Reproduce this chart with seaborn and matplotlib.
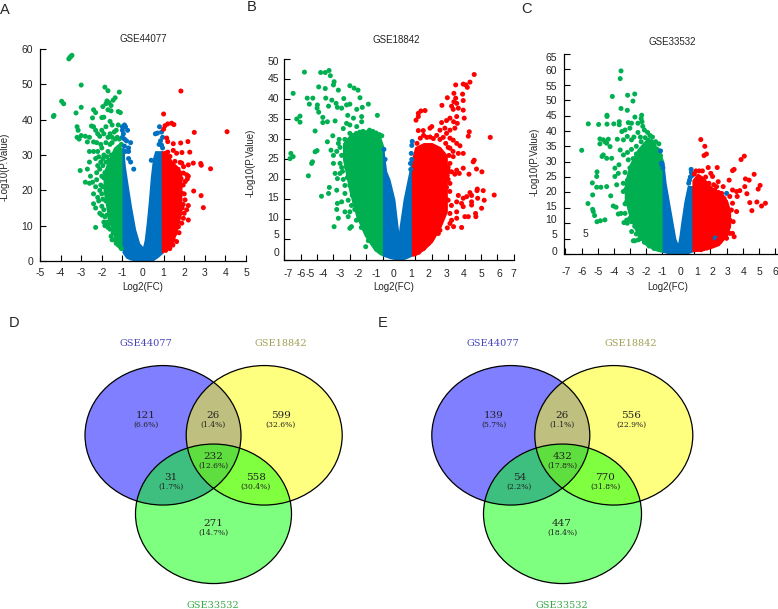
import matplotlib
matplotlib.use("Agg")
import matplotlib.pyplot as plt
from matplotlib.patches import Ellipse
import pandas as pd
import seaborn as sns

W, H = 778, 609
GREEN, BLUE, RED = "#00B050", "#0070C0", "#FF0000"

# ---------- Panel A: individually visible points (x, y) ----------
A_DOWN = [(-3.6,57.2),(-3.55,57.6),(-3.5,57.9),(-3.45,58.2),(-3.0,49.8),(-1.85,49.2),(-1.7,48.2),(-1.15,47.8),(-1.35,46.2),
(-1.45,45.5),(-1.75,45.3),(-1.65,44.8),(-1.8,44.5),(-1.55,44),(-1.95,43.7),(-3.95,45.2),(-3.85,44.5),(-4.35,40.9),(-4.32,41.2),
(-3.25,41.9),(-3.0,43.5),(-2.4,42.8),(-2.3,42),(-1.7,42.8),(-1.55,42.5),(-1.2,42.3),(-1.1,42),(-2.45,40.5),(-2.0,40.6),(-1.9,40.7),
(-1.6,39.5),(-1.5,38.5),(-1.2,38.5),(-3.15,37),(-3.2,38),(-3.2,35),(-3.1,34.5),(-3,35.5),(-2.8,35.3),(-2.6,35),(-2.7,33.7),(-2.4,33.7),
(-2.3,37),(-2.5,38.2),(-2.4,38),(-2.2,36),(-2.1,35.3),(-2,37),(-1.9,36),(-1.8,38),(-1.7,35),(-1.6,36),(-1.5,35),(-1.4,36.5),(-1.3,37),
(-2.4,31),(-2.6,31),(-2.3,29),(-2.6,28),(-2.7,26),(-2.2,27),(-2.0,32),(-1.9,30),(-1.7,31),(-2.8,22.3),(-2.6,22),(-2.45,22.3),(-2.3,21),
(-2.25,23),(-2,24),(-2.1,26),(-2.4,19),(-2.2,18),(-2.4,16.2),(-2.3,15),(-2.15,17),(-2,19),(-1.95,21),(-2.1,13.5),(-2,13),(-1.9,11),
(-1.85,10),(-2.0,15.5),(-1.8,17),(-1.6,20),(-1.6,12),(-1.6,9),(-1.55,7),(-1.5,6),(-1.45,8),(-3.05,25.6),(-2.3,9.5),(-2.05,33),(-2.25,33.5),
(-1.95,27),(-1.85,25),(-1.8,28),(-2.15,29.5),(-2.55,24),(-1.75,13),(-1.7,9.5),(-1.2,4.5),(-1.05,3.5),
(-1.6,33),(-1.5,33.5),(-1.35,34.5),(-1.25,35),(-1.15,34.5),(-1.05,33),(-1.8,33.5),(-1.75,29.5),(-1.65,28.5),(-1.55,30),(-1.9,23.5),(-1.95,17.5),
(-1.9,14.5),(-1.85,12.5),(-1.75,11),(-1.65,10.5),(-1.5,9.2),(-1.4,6),(-1.3,5),(-1.1,4),(-1.95,29),(-2.05,28),(-2.05,21.5),(-2.1,20),(-2.2,31),(-2.25,25)]
A_MID = [(-1,38),(-.9,38.5),(-.85,38),(-1,37),(-.75,37),(-.95,36),(-1,35),(-.9,34.5),(-.8,34),(-.6,33.5),(-.7,32),(-.9,32.5),(-.85,31),
(-.7,31),(-.7,29),(-.6,28),(-.45,26),(.8,38),(.7,36.2),(.6,36),(.9,36.5),(.95,35),(.85,34),(.9,32.8),(.95,32),(.78,33),(.4,28.5)]
A_UP = [(4.08,36.6),(1.84,48.1),(1,41.6),(2.49,36.4),(3.28,26.1),(2.8,27.6),(2.83,27.1),(2.93,15.1),(2.82,18.5),(2.46,19.8),(2.27,30.8),
(2.18,33.8),(1.83,33.4),(1.2,38.8),(1.39,39),(1.5,38.6),(1.07,38.3),(1,37.3),(1.15,34.8),(1.2,33.8),(1.47,33.2),(1.47,31.3),(1.89,30.7),
(1.63,30.5),(2.2,27.2),(2.44,27.7),(1.97,26.7),(1.88,27.7),(1.8,27.9),(1.31,29.6),(2.12,24.4),(1.96,24.9),(1.8,24.9),(2.04,17.3),(2.2,15.7),
(2.12,14.5),(2.2,11.6),(1.96,12.1),(2,13.5),(1.8,21),(1.88,19.2),(1.72,9.7),(1.88,10.7),(1.55,7.8),(1.63,5.5),(1.23,4),(1.47,6),(1.72,15.4),
(1.8,13.5),(1.65,23),(1.7,26),(1.75,18),(1.65,11),(1.1,3),(2.2,24),(2.15,23.2),(2.05,22.5),(1.95,21.5),(2.0,19),(1.95,16),(1.9,15),(1.85,23.3),
(1.75,8),(1.45,4.5),(1.3,3.5),(1.35,5),(1.2,30.8),(1.1,30.5),(1.55,28.2)]
# dense masses: x, lower edge, upper edge
A_DOWN_X = [-1.9,-1.7,-1.4,-1.2,-0.95]
A_DOWN_LO = [20,13,7,5,3.5]
A_DOWN_HI = [25,28,32,33,31]
A_MID_X = [-0.98,-0.9,-0.8,-0.6,-0.4,-0.2,-0.05,0,0.1,0.2,0.3,0.4,0.5,0.6,0.7,0.8,0.95]
A_MID_LO = [2.5,1.8,1,0.5,0.3,0.1,0,0,0,0.1,0.2,0.3,0.4,0.8,1.2,1.7,2.5]
A_MID_HI = [32,27,23,15.5,9,5,4,3.5,6,11,17,24,29,31,31,31,31]
A_UP_X = [0.93,1.2,1.4,1.6,1.85]
A_UP_LO = [2.5,4,5,8,14]
A_UP_HI = [31,30,28,27,25]

# ---------- Panel B ----------
B_DOWN = [(-5.77,46.8),(-4.78,46.7),(-4.5,46.7),(-4.27,47.2),(-4.19,45.9),(-3.96,44.4),(-4,43.6),(-4.9,43.1),(-4.5,42.7),(-3.7,42.3),(-3,43.4),
(-2.74,42.8),(-2.5,42.3),(-6.46,41.5),(-5.6,40.3),(-5.26,40.3),(-4.47,40.3),(-4.1,39.8),(-3.37,40.2),(-2.38,40.4),(-5.47,38.8),(-4.98,38.6),
(-4.3,38.3),(-3.84,39),(-3.76,38),(-3.5,37.8),(-3.2,38.6),(-3,38.8),(-1.87,38.8),(-2.24,38),(-2.58,37.5),(-5,37.8),(-4.9,36.8),(-6.04,35.8),
(-6.24,35.1),(-6.04,34.3),(-1.32,36),(-3.13,36),(-2.78,35.3),(-2.28,35.7),(-2.28,34.4),(-4.65,35.5),(-4.65,34.2),(-4.37,34.4),(-3.9,34.6),
(-5.12,32.1),(-4.04,30.9),(-3.4,32.7),(-3.2,34),(-3,33.6),(-2.58,33.2),(-4.37,29.4),(-4.15,27.3),(-5,27.2),(-5.12,26.9),(-6.6,26.5),(-6.46,25.7),
(-6.65,25.2),(-5.28,24.4),(-5.33,24),(-4,26),(-4,24),(-5.53,20.9),(-3.9,21.5),(-3.76,20.2),(-3.6,21.5),(-4.25,18),(-4.73,15.8),(-4.3,16.5),
(-3.8,17.3),(-3.3,16.5),(-3.76,14),(-3.5,14.4),(-3.1,14.8),(-3.8,12.5),(-3.3,11.9),(-3,11.9),(-3.7,10.3),(-3.1,10.7),(-3.96,8.2),(-3,7.8),
(-2.9,8.2),(-2.6,9.8),(-2.03,3.2),(-1.87,4.7),(-1.77,5),(-3.7,29),(-3.6,28),(-3.5,26),(-3.8,27),(-3.6,24),(-3.45,22),(-3.4,20),(-3.3,18.5),
(-3.5,23),(-3.65,30),(-2.9,13.5),(-2.7,12.5),(-2.5,10),(-2.3,8),(-2.6,31.5),(-2.2,32),(-1.8,32.3),(-1.4,31.6),(-3.3,30),(-3.0,31.5),(-2.8,31),(-2.4,31.8),
(-2.0,31.7),(-1.6,32),(-1.2,31.2),(-1.05,30.9),(-3.2,23),(-3.15,20.5),(-3.0,18.5),(-2.85,16),(-2.7,14.5),(-2.5,12),(-2.3,9.5),(-2.1,7.5),(-1.9,6),(-1.6,4),(-1.35,2.5)]
B_MID = [(.81,29.5),(.78,28.5),(.75,26.5),(.78,25),(.7,24),(.72,22.5),(-.92,27.5),(-.85,25)]
B_UP = [(4.59,46.2),(4.33,44.3),(3.92,43.8),(4.08,43.6),(4.17,43),(3.46,43.6),(3.35,41.5),(3.88,41.3),(2.95,40.4),(3.46,40.3),(3.92,39.7),(3.35,39.4),
(2.62,38.5),(3.21,38.3),(3.52,39),(3.62,37.8),(3.92,37.3),(3.31,37.5),(1.59,37.2),(1.34,37.1),(1.18,36.5),(1.18,35.7),(1.04,34.8),(3.52,35.7),
(3.98,35.3),(3.11,35.3),(2.9,34.7),(2.6,34.2),(3.33,34.4),(3.56,34),(2.8,32.8),(2.5,32.3),(1.89,32.8),(1.18,32.2),(1.48,32.2),(2,33.2),(3.11,32.3),
(3.41,32.8),(4.29,31.9),(4.23,30.8),(5.57,30.5),(3.52,29),(3.72,28.4),(3.31,29.8),(2.9,31.5),(3.11,30.3),(3.92,26.5),(3.11,27.8),(3.31,25.7),
(3.62,26.5),(4.59,24.8),(4.53,24.4),(3.11,24),(3.92,22.8),(4.73,22.6),(5.06,21.9),(3.52,22.3),(3.21,21.9),(3.41,21.3),(3.68,21.5),(4.27,21.3),
(3.11,19),(4.78,17.6),(5.14,17.2),(4.76,17.2),(5.81,16.1),(4.33,16.7),(4.43,16),(4.13,15.7),(3.62,16),(3.92,15.3),(5.2,14.8),(4.8,15.3),(4.43,14.4),
(3,14.8),(3.52,14.4),(3.82,14),(5.04,12.8),(3.92,13.2),(4.43,13.6),(3.52,11.9),(3.11,11.5),(4.67,11.5),(4.69,10.7),(4.23,10.7),(4.02,10.7),
(3.21,9.8),(3.52,10.3),(2.95,7.9),(3.33,8.2),(3.82,8),(3.11,9),(2.5,7.3),(2.4,6.5),(2.7,30.5),(2.3,31),(1.7,30.5),(1.3,30.3),(3.0,28),(3.3,27),(3.05,22),
(3.0,20),(3.1,17),(3.2,13.5),(1.1,29),(1.5,31),(1.9,30.6),(2.1,30.2),(2.5,30),(2.85,29),(3.05,26),(3.0,23),(2.95,21),(2.9,18),(2.9,15),(2.8,13),(2.6,10.5),(2.3,7.5),(2.05,5.5),(1.8,4),(1.5,2.8),(1.2,1.8)]
B_DOWN_X = [-3.4,-3.0,-2.6,-2.07,-1.5,-1.2,-0.96]
B_DOWN_LO = [25,17,11,6,2.5,1.5,1]
B_DOWN_HI = [29,31,31,32,31.5,31,28]
B_MID_X = [-0.96,-0.8,-0.6,-0.3,-0.1,0,0.05,0.3,0.65,0.81]
B_MID_LO = [1,0.8,0.5,0.2,0,0,0,0.2,0.8,1.2]
B_MID_HI = [27,22,20,15,8,5,8,15,22,25]
B_UP_X = [0.81,1.0,1.5,2.0,2.5,2.9]
B_UP_LO = [1,1.2,2.5,4.5,8,12]
B_UP_HI = [25,28,29,29,28,26]

# ---------- Panel C ----------
C_DOWN = [(-3.55,59.5),(-3.6,57),(-2.7,52),(-3.14,51.6),(-4.09,51.2),(-2.81,49.7),(-3.55,47.3),(-3.16,46.7),(-4.42,45.1),(-4.42,44.7),(-2.69,44.5),
(-2.27,45.1),(-5.58,42.3),(-4.94,42.1),(-4.42,42.2),(-4,42.3),(-3.66,43),(-3.66,42),(-3.1,42.7),(-2.9,42.5),(-2.5,42.5),(-5.99,33.7),(-4.86,37.4),
(-4.65,37.1),(-4.34,37.3),(-3.78,37.3),(-3.3,40.3),(-3,40.9),(-3.5,39.8),(-4.86,35.8),(-4.55,36.5),(-4.44,36),(-4.23,34.9),(-3.6,33.8),(-3.4,37.1),
(-3.16,38.2),(-2.9,37.1),(-4.65,32.2),(-4.73,31.7),(-4.44,31.1),(-4.13,31.1),(-3.4,32.2),(-3.68,29),(-3.93,27.9),(-3.1,30.6),(-5.04,26.7),(-5.06,25.2),
(-5.33,23.1),(-5.06,21.7),(-4.8,21.7),(-4.44,21.9),(-3.93,25.2),(-3.72,26.2),(-3.82,22.5),(-3.41,23),(-5.31,19.2),(-4.19,18.9),(-3.41,20.3),(-5.6,16.4),
(-4.03,15.6),(-3.86,15.2),(-3.3,16.3),(-5.31,14.5),(-5.27,13.8),(-5.19,12.5),(-5.04,10.5),(-4.83,10.8),(-4.55,11.1),(-3.72,13),(-3.55,13.2),(-3.3,13.2),
(-3.37,10.2),(-3.2,11),(-2.89,7.3),(-2.69,4.3),(-2.48,4.6),(-2.79,4.3),(-2.27,5.1),(-2.38,6.7),(-3.16,10),(-3,11.6),(-2.3,44),(-2.25,43),(-2.2,41.5),
(-2.1,40.3),(-2.5,39.5),(-2.75,38),(-2.35,38),(-1.9,39.5),(-1.75,38.5),(-1.6,38),(-1.4,36.5),(-1.2,35.8),(-1.3,34),(-2.9,34),(-3.15,33),(-3.0,28),
(-3.3,26.5),(-3.15,24),(-3.1,20),(-3.05,18),(-2.95,15),(-2.8,12),(-2.7,9),(-1.1,32),(-1.5,35.5),(-2.6,35),(-2.3,36.5),(-2.05,37.8),(-1.85,37),(-1.65,36.5),
(-2.8,31),(-2.6,32.5),(-3.25,21),(-3.2,17),(-2.9,10.5),(-2.6,6.5),(-2.35,5),(-2.1,3.8),(-1.8,2.6),(-1.5,1.8)]
C_MID = [(-1.1,33.5),(-1.05,29.5),(-1.0,29),(-.95,28),(.8,27.5),(.82,26.5),(.85,25.5),(.75,25),(.7,24),(.65,23),(3,19.7),(2.3,5.2)]
C_UP = [(1.4,37.2),(1.65,35),(1.75,32.5),(1.6,32),(4.1,31.8),(3.9,30.7),(4.71,25.9),(4.17,24.4),(4.4,24),(5.08,22.3),(4.96,21.1),(4.26,19.6),(3.47,27.5),
(3.37,27.1),(2.42,28.1),(1.86,28.1),(2.02,26.2),(2.13,25.2),(3.16,24),(4.13,21.9),(3.82,20.6),(3.62,20.3),(3.37,20.8),(3.2,18.7),(3.66,18.7),(4.44,16.7),
(4.88,16.9),(5.41,16.5),(5.17,15.6),(4.57,14.1),(3.37,16.5),(3.62,13.8),(3.41,10.5),(3.1,13.2),(3,15.4),(3.3,14.3),(3.2,11),(3.37,6.7),(3.47,5.6),(3.2,6.7),
(3,5.1),(2.79,6.7),(2.79,8.9),(3,8.9),(2.58,4),(2.48,4.6),(2.62,9.4),(2.48,23.5),(2.79,21.9),(2.38,21.9),(2.27,20.8),(2.69,19.7),(1.3,27),(1.1,27),(1.5,27),
(1.0,26),(1.7,25),(3.05,12),(2.9,11),(3.0,7.5),(2.85,18),(2.95,16.5),(1.9,23),(2.2,22.5),(2.5,20),(2.75,18.5),(2.4,3.8),(2.1,2.8),(1.8,2),(1.4,1.4)]
C_DOWN_X = [-3.3,-3.0,-2.5,-2.0,-1.5,-1.2,-0.95]
C_DOWN_LO = [18,12,6,3,1.5,1,0.8]
C_DOWN_HI = [23,29,34,37,35.5,34,30]
C_MID_X = [-0.95,-0.8,-0.6,-0.4,-0.2,-0.05,0,0.1,0.2,0.4,0.6,0.9]
C_MID_LO = [0.8,0.6,0.3,0.2,0.1,0,0,0,0.1,0.2,0.4,1]
C_MID_HI = [30,23,17,11,5,3,3,6,10,17,22,22]
C_UP_X = [0.9,1.2,1.5,2.0,2.5,3.0,3.2]
C_UP_LO = [1,1.1,1.3,2,3,6,9]
C_UP_HI = [24,26,25,22,19.5,17.5,14]

# ---------- Venn diagrams ----------
SET_NAMES = ["GSE44077", "GSE18842", "GSE33532"]
SET_COLOURS = ["#4444BB", "#A0A055", "#33AA44"]
D_COUNTS = ["121", "26", "599", "232", "31", "558", "271"]
D_PCTS = ["(6.6%)", "(1.4%)", "(32.6%)", "(12.6%)", "(1.7%)", "(30.4%)", "(14.7%)"]
E_COUNTS = ["139", "26", "556", "432", "54", "770", "447"]
E_PCTS = ["(5.7%)", "(1.1%)", "(22.9%)", "(17.8%)", "(2.2%)", "(31.8%)", "(18.4%)"]

sns.set_theme(style="ticks")
plt.rcParams["font.family"] = ["Liberation Sans", "DejaVu Sans"]
plt.rcParams["axes.unicode_minus"] = False
fig = plt.figure(figsize=(W / 100, H / 100), dpi=100, facecolor="white")


def axes_px(left, top, right, bottom):
    return fig.add_axes([left / W, 1 - bottom / H, (right - left) / W, (bottom - top) / H])


def volcano(ax, groups, bands, xlim, ylim, xticks, yticks):
    for (bx, lo, hi), colour in zip(bands, [GREEN, BLUE, RED]):
        ax.fill_between(bx, lo, hi, color=colour, lw=1.2, zorder=1)
    frames = []
    for pts, name in zip(groups, ["down", "mid", "up"]):
        fr = pd.DataFrame(pts, columns=["fc", "p"])
        fr["group"] = name
        frames.append(fr)
    sns.scatterplot(data=pd.concat(frames), x="fc", y="p", hue="group",
                    palette={"down": GREEN, "mid": BLUE, "up": RED},
                    s=13, linewidth=0, legend=False, ax=ax, zorder=2, clip_on=False)
    ax.set_xlim(*xlim)
    ax.set_ylim(*ylim)
    ax.set_xticks(xticks)
    ax.set_yticks(yticks)
    ax.set_xlabel("")
    ax.set_ylabel("")
    ax.tick_params(direction="in", length=4, width=0.8, labelsize=7.5, pad=5, color="black")
    sns.despine(ax=ax)
    for s in ("left", "bottom"):
        ax.spines[s].set_linewidth(0.9)
        ax.spines[s].set_color("black")
    ax.patch.set_alpha(0)


ax_a = axes_px(40, 49, 246, 261)
volcano(ax_a, [A_DOWN, A_MID, A_UP],
        [(A_DOWN_X, A_DOWN_LO, A_DOWN_HI), (A_MID_X, A_MID_LO, A_MID_HI), (A_UP_X, A_UP_LO, A_UP_HI)],
        (-5, 5), (0, 60), list(range(-5, 6)), list(range(0, 61, 10)))

ax_b = axes_px(284.3, 59.3, 513.7, 259.5)
volcano(ax_b, [B_DOWN, B_MID, B_UP],
        [(B_DOWN_X, B_DOWN_LO, B_DOWN_HI), (B_MID_X, B_MID_LO, B_MID_HI), (B_UP_X, B_UP_LO, B_UP_HI)],
        (-7, 7), (0, 50), list(range(-7, 8)), list(range(0, 51, 5)))
ax_b.tick_params(labelbottom=False, labelleft=False)

ax_c = axes_px(564.3, 54, 777.5, 254)
volcano(ax_c, [C_DOWN, C_MID, C_UP],
        [(C_DOWN_X, C_DOWN_LO, C_DOWN_HI), (C_MID_X, C_MID_LO, C_MID_HI), (C_UP_X, C_UP_LO, C_UP_HI)],
        (-7.07, 6.16), (0, 65), list(range(-7, 7)), list(range(0, 66, 5)))
ax_c.tick_params(labelbottom=False, labelleft=False)

# overlay in pixel coordinates for the free-standing text and the Venn circles
ov = fig.add_axes([0, 0, 1, 1], zorder=5)
ov.set_xlim(0, W)
ov.set_ylim(H, 0)
ov.axis("off")


def txt(x, y, s, size=7.5, **kw):
    kw.setdefault("ha", "center")
    kw.setdefault("va", "center")
    ov.text(x, y, s, fontsize=size, **kw)


# panel B and C hand-placed tick labels (they do not sit on the ticks in the source)
for zx, t in zip([113,152,180,218,271,325,379,430,483,536,590,642,695,747,790], range(-7, 8)):
    txt(250 + zx / 3, 274, str(t))
for zy, t in zip([760,705,655,595,535,476,416,356,296,237,185], range(0, 51, 5)):
    txt(279, zy / 3, str(t), ha="right")
for zx, t in zip([168,216,264,312,360,408,456,512,560,606,654,701,748,795], range(-7, 7)):
    txt(510 + zx / 3, 272, str(t))
for zy, t in zip([757,705,660,622,576,530,485,440,395,347,303,262,212,175], range(0, 66, 5)):
    txt(557, zy / 3, str(t), ha="right")
txt(585, 234, "5")

# titles and axis labels
for x, y, s in [(143, 39, "GSE44077"), (396, 40, "GSE18842"), (672, 42, "GSE33532")]:
    txt(x, y, s, size=7)
for x, y in [(143, 287), (394, 287), (668, 287)]:
    txt(x, y, "Log2(FC)", size=7)
for x, y in [(5, 167), (250.5, 163), (535, 162)]:
    txt(x, y, "-Log10(P.Value)", size=7, rotation=90)
for x, y, s in [(5, 10, "A"), (252, 7, "B"), (527, 9, "C"), (14, 323, "D"), (383, 323, "E")]:
    txt(x, y, s, size=10.5)


def venn(cxs, cy_top, cy_bot, w, h, label_xy, region_xy, counts, pcts):
    colours = ["#0000FF", "#FFFF00", "#00FF00"]
    cys = [cy_top, cy_top, cy_bot]
    for cx, cy, c in zip(cxs, cys, colours):
        ov.add_patch(Ellipse((cx, cy), w, h, facecolor=c, alpha=0.5, edgecolor="none"))
    for cx, cy in zip(cxs, cys):
        ov.add_patch(Ellipse((cx, cy), w, h, facecolor="none", edgecolor="black", lw=0.9))
    for (x, y), s, c in zip(label_xy, SET_NAMES, SET_COLOURS):
        txt(x, y, s, size=7, family="DejaVu Serif", color=c)
    for (x, y), n, p in zip(region_xy, counts, pcts):
        txt(x, y, n, size=7.5, family="DejaVu Serif", color="#222222")
        txt(x, y + 9, p, size=5.5, family="DejaVu Serif", color="#222222")


venn([163, 264.2, 213.5], 435.3, 513.8, 156, 139.5,
     [(145.7, 344), (281, 344), (213.3, 605)],
     [(145.7, 416), (213.3, 416), (281, 416), (213.3, 456.7), (170.7, 478), (255.7, 478), (213.3, 524)],
     D_COUNTS, D_PCTS)
venn([510.8, 613.8, 562.5], 435.3, 513.8, 158, 139.5,
     [(493.3, 344), (630.7, 344), (562, 605)],
     [(493.7, 416), (562, 416), (631, 416), (562.3, 456.7), (519.3, 478), (605.3, 478), (562, 524)],
     E_COUNTS, E_PCTS)

fig.savefig("out.png", dpi=100)
